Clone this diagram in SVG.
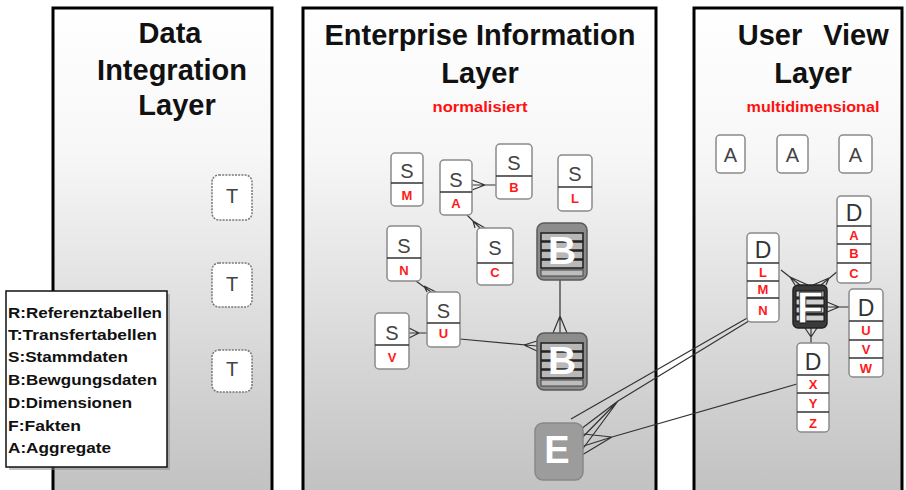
<svg xmlns="http://www.w3.org/2000/svg" width="906" height="490" viewBox="0 0 906 490">
<defs>
<linearGradient id="pg" gradientUnits="userSpaceOnUse" x1="0" y1="8" x2="0" y2="490">
<stop offset="0" stop-color="#ffffff"/>
<stop offset="0.3" stop-color="#f7f7f7"/>
<stop offset="1" stop-color="#c2c2c2"/>
</linearGradient>
<style>
.panel{fill:url(#pg);stroke:#000;stroke-width:3}
.title{font-family:"Liberation Sans",Arial,sans-serif;font-weight:bold;font-size:29px;fill:#111;text-anchor:middle}
.sub{font-family:"Liberation Sans",Arial,sans-serif;font-weight:bold;font-size:15px;fill:#ff1010;text-anchor:middle}
.leg{font-family:"Liberation Sans",Arial,sans-serif;font-weight:bold;font-size:15px;fill:#111}
.box{fill:#fff;stroke:#8a8a8a;stroke-width:1.5}
.tbox{fill:#fff;stroke:#777;stroke-width:1.5;stroke-dasharray:2 1.2}
.div{stroke:#333;stroke-width:1.5}
.big{font-family:"Liberation Sans",Arial,sans-serif;font-size:20px;fill:#444;text-anchor:middle}
.dl{font-family:"Liberation Sans",Arial,sans-serif;font-size:23px;fill:#333;text-anchor:middle}
.red{font-family:"Liberation Sans",Arial,sans-serif;font-weight:bold;font-size:13px;fill:#ff1a1a;text-anchor:middle}
.ent{font-family:"Liberation Sans",Arial,sans-serif;font-weight:bold;fill:#fff;text-anchor:middle}
.ln{stroke:#333;stroke-width:1.2;fill:none}
.stripe{fill:#b8b8b8;stroke:#1e1e1e;stroke-width:1.5}
</style>
</defs>

<!-- panels -->
<g id="panel-data-integration">
<rect class="panel" x="53" y="8" width="219" height="490"/>
<text class="title" x="170" y="43">Data</text>
<text class="title" x="172" y="80">Integration</text>
<text class="title" x="177" y="115">Layer</text>
</g>
<g id="panel-enterprise">
<rect class="panel" x="303" y="8" width="353" height="490"/>
<text class="title" x="480" y="45">Enterprise Information</text>
<text class="title" x="480" y="83">Layer</text>
<text class="sub" x="480" y="112" textLength="95" lengthAdjust="spacingAndGlyphs">normalisiert</text>
</g>
<g id="panel-user-view">
<rect class="panel" x="694" y="8" width="208" height="490"/>
<text class="title" x="770" y="45">User</text>
<text class="title" x="856" y="45">View</text>
<text class="title" x="813" y="83">Layer</text>
<text class="sub" x="813" y="112" textLength="133" lengthAdjust="spacingAndGlyphs">multidimensional</text>
</g>

<!-- legend -->
<g id="legend">
<rect x="9" y="294" width="161" height="176" fill="#888" opacity=".5"/>
<rect x="6" y="291" width="161" height="176" fill="#fff" stroke="#111" stroke-width="1.5"/>
<text class="leg" x="8" y="318" textLength="154" lengthAdjust="spacingAndGlyphs">R:Referenztabellen</text>
<text class="leg" x="8" y="340" textLength="149" lengthAdjust="spacingAndGlyphs">T:Transfertabellen</text>
<text class="leg" x="8" y="362" textLength="120" lengthAdjust="spacingAndGlyphs">S:Stammdaten</text>
<text class="leg" x="8" y="385" textLength="149" lengthAdjust="spacingAndGlyphs">B:Bewgungsdaten</text>
<text class="leg" x="8" y="408" textLength="124" lengthAdjust="spacingAndGlyphs">D:Dimensionen</text>
<text class="leg" x="8" y="431" textLength="73" lengthAdjust="spacingAndGlyphs">F:Fakten</text>
<text class="leg" x="8" y="453" textLength="103" lengthAdjust="spacingAndGlyphs">A:Aggregate</text>
</g>

<!-- T nodes -->
<g id="t1"><rect class="tbox" x="212" y="175" width="40" height="45" rx="7"/><text class="big" x="232" y="203">T</text></g>
<g id="t2"><rect class="tbox" x="212" y="263" width="40" height="44" rx="7"/><text class="big" x="232" y="291">T</text></g>
<g id="t3"><rect class="tbox" x="212" y="350" width="40" height="42" rx="7"/><text class="big" x="232" y="376">T</text></g>

<!-- connectors -->
<g id="connectors">
<path class="ln" d="M472,185 L496,185 M485,185 L472,180 M485,185 L472,190"/>
<path class="ln" d="M467,215 L480,228 M473,221 L475,228 M473,221 L485,228"/>
<path class="ln" d="M416,281 L431,292 M424,286 L427,292 M424,286 L436,292"/>
<path class="ln" d="M409,333 L427,333 M419,333 L409,328 M419,333 L409,338"/>
<path class="ln" d="M460,339 L537,346 M524,345 L537,341 M524,345 L537,351"/>
<path class="ln" d="M560,280 L560,333 M560,316 L553,333 M560,316 L567,333"/>
<path class="ln" d="M781,270 L800,285 M790,277 L795,285 M790,277 L808,285"/>
<path class="ln" d="M838,271 L821,285 M829,278 L813,285 M829,278 L826,285"/>
<path class="ln" d="M849,307 L827,307 M839,307 L827,302 M839,307 L827,312"/>
<path class="ln" d="M811,343 L811,328 M811,337 L805,328 M811,337 L817,328"/>
<path class="ln" d="M571,419 L756,313"/>
<path class="ln" d="M618,401 L757,316 M618,401 L577,432 M618,401 L572,448 M618,401 L573,462"/>
<path class="ln" d="M612,437 L797,384 M612,437 L574,433 M612,437 L571,450 M612,437 L572,461"/>
</g>

<!-- S nodes -->
<g id="s-m"><rect class="box" x="391" y="153" width="32" height="53" rx="4"/><line class="div" x1="391" y1="183" x2="423" y2="183"/><text class="big" x="407" y="178">S</text><text class="red" x="407" y="200">M</text></g>
<g id="s-a"><rect class="box" x="440" y="160" width="32" height="55" rx="4"/><line class="div" x1="440" y1="192" x2="472" y2="192"/><text class="big" x="456" y="187">S</text><text class="red" x="456" y="208">A</text></g>
<g id="s-b"><rect class="box" x="496" y="144" width="36" height="55" rx="4"/><line class="div" x1="496" y1="176" x2="532" y2="176"/><text class="big" x="514" y="170">S</text><text class="red" x="514" y="192">B</text></g>
<g id="s-l"><rect class="box" x="558" y="155" width="34" height="56" rx="4"/><line class="div" x1="558" y1="187" x2="592" y2="187"/><text class="big" x="575" y="181">S</text><text class="red" x="575" y="203">L</text></g>
<g id="s-n"><rect class="box" x="387" y="226" width="34" height="55" rx="4"/><line class="div" x1="387" y1="258" x2="421" y2="258"/><text class="big" x="404" y="253">S</text><text class="red" x="404" y="275">N</text></g>
<g id="s-c"><rect class="box" x="477" y="228" width="36" height="57" rx="4"/><line class="div" x1="477" y1="263" x2="513" y2="263"/><text class="big" x="495" y="255">S</text><text class="red" x="495" y="277">C</text></g>
<g id="s-u"><rect class="box" x="427" y="292" width="33" height="55" rx="4"/><line class="div" x1="427" y1="323" x2="460" y2="323"/><text class="big" x="443.5" y="318">S</text><text class="red" x="443.5" y="338">U</text></g>
<g id="s-v"><rect class="box" x="375" y="313" width="34" height="56" rx="4"/><line class="div" x1="375" y1="345" x2="409" y2="345"/><text class="big" x="392" y="340">S</text><text class="red" x="392" y="362">V</text></g>

<!-- B nodes -->
<g id="b1" transform="translate(537,223)">
<rect x="0" y="0" width="50" height="57" rx="7" fill="#8c8c8c" stroke="#5a5a5a" stroke-width="1.5"/>
<rect class="stripe" x="4" y="10" width="42" height="8"/>
<rect class="stripe" x="4" y="19" width="42" height="8"/>
<rect class="stripe" x="4" y="28" width="42" height="8"/>
<rect class="stripe" x="4" y="37" width="42" height="8"/>
<rect x="4" y="47" width="42" height="6" fill="#bdbdbd" stroke="#444" stroke-width="1"/>
<text class="ent" x="25" y="41" font-size="39">B</text>
</g>
<g id="b2" transform="translate(537,333)">
<rect x="0" y="0" width="50" height="57" rx="7" fill="#8c8c8c" stroke="#5a5a5a" stroke-width="1.5"/>
<rect class="stripe" x="4" y="10" width="42" height="8"/>
<rect class="stripe" x="4" y="19" width="42" height="8"/>
<rect class="stripe" x="4" y="28" width="42" height="8"/>
<rect class="stripe" x="4" y="37" width="42" height="8"/>
<rect x="4" y="47" width="42" height="6" fill="#bdbdbd" stroke="#444" stroke-width="1"/>
<text class="ent" x="25" y="41" font-size="39">B</text>
</g>

<!-- E node -->
<g id="e-node">
<rect x="535" y="423" width="48" height="57" rx="8" fill="#9c9c9c" stroke="#888" stroke-width="1.5"/>
<text class="ent" x="557" y="463" font-size="38">E</text>
</g>

<!-- A nodes -->
<g id="a1"><rect class="box" x="716" y="135" width="29" height="38" rx="4"/><text class="big" x="730.5" y="162" font-size="18">A</text></g>
<g id="a2"><rect class="box" x="777" y="135" width="31" height="38" rx="4"/><text class="big" x="792.5" y="162" font-size="18">A</text></g>
<g id="a3"><rect class="box" x="839" y="135" width="33" height="38" rx="4"/><text class="big" x="855.5" y="162" font-size="18">A</text></g>

<!-- D nodes -->
<g id="d-lmn"><rect class="box" x="747" y="233" width="32" height="89" rx="4"/>
<line class="div" x1="747" y1="263" x2="779" y2="263"/><line class="div" x1="747" y1="281" x2="779" y2="281"/><line class="div" x1="747" y1="298" x2="779" y2="298"/>
<text class="dl" x="763" y="258">D</text><text class="red" x="763" y="277">L</text><text class="red" x="763" y="294">M</text><text class="red" x="763" y="315">N</text></g>
<g id="d-abc"><rect class="box" x="837" y="196" width="34" height="87" rx="4"/>
<line class="div" x1="837" y1="226" x2="871" y2="226"/><line class="div" x1="837" y1="244" x2="871" y2="244"/><line class="div" x1="837" y1="263" x2="871" y2="263"/>
<text class="dl" x="854" y="221">D</text><text class="red" x="854" y="240">A</text><text class="red" x="854" y="258">B</text><text class="red" x="854" y="278">C</text></g>
<g id="d-uvw"><rect class="box" x="849" y="289" width="34" height="88" rx="4"/>
<line class="div" x1="849" y1="321" x2="883" y2="321"/><line class="div" x1="849" y1="340" x2="883" y2="340"/><line class="div" x1="849" y1="358" x2="883" y2="358"/>
<text class="dl" x="866" y="316">D</text><text class="red" x="866" y="335">U</text><text class="red" x="866" y="354">V</text><text class="red" x="866" y="373">W</text></g>
<g id="d-xyz"><rect class="box" x="797" y="343" width="32" height="89" rx="4"/>
<line class="div" x1="797" y1="375" x2="829" y2="375"/><line class="div" x1="797" y1="393" x2="829" y2="393"/><line class="div" x1="797" y1="412" x2="829" y2="412"/>
<text class="dl" x="813" y="370">D</text><text class="red" x="813" y="389">X</text><text class="red" x="813" y="408">Y</text><text class="red" x="813" y="428">Z</text></g>

<!-- F node -->
<g id="f-node" transform="translate(793,285)">
<rect x="0" y="0" width="34" height="43" rx="5" fill="#3a3a3a" stroke="#222" stroke-width="1.5"/>
<rect x="3" y="6" width="28" height="6" fill="#d0d0d0" stroke="#111"/>
<rect x="3" y="14" width="28" height="6" fill="#d0d0d0" stroke="#111"/>
<rect x="3" y="22" width="28" height="6" fill="#d0d0d0" stroke="#111"/>
<rect x="3" y="30" width="28" height="6" fill="#d0d0d0" stroke="#111"/>
<text class="ent" x="17" y="38" font-size="44" stroke="#222" stroke-width=".8">F</text>
</g>
</svg>
